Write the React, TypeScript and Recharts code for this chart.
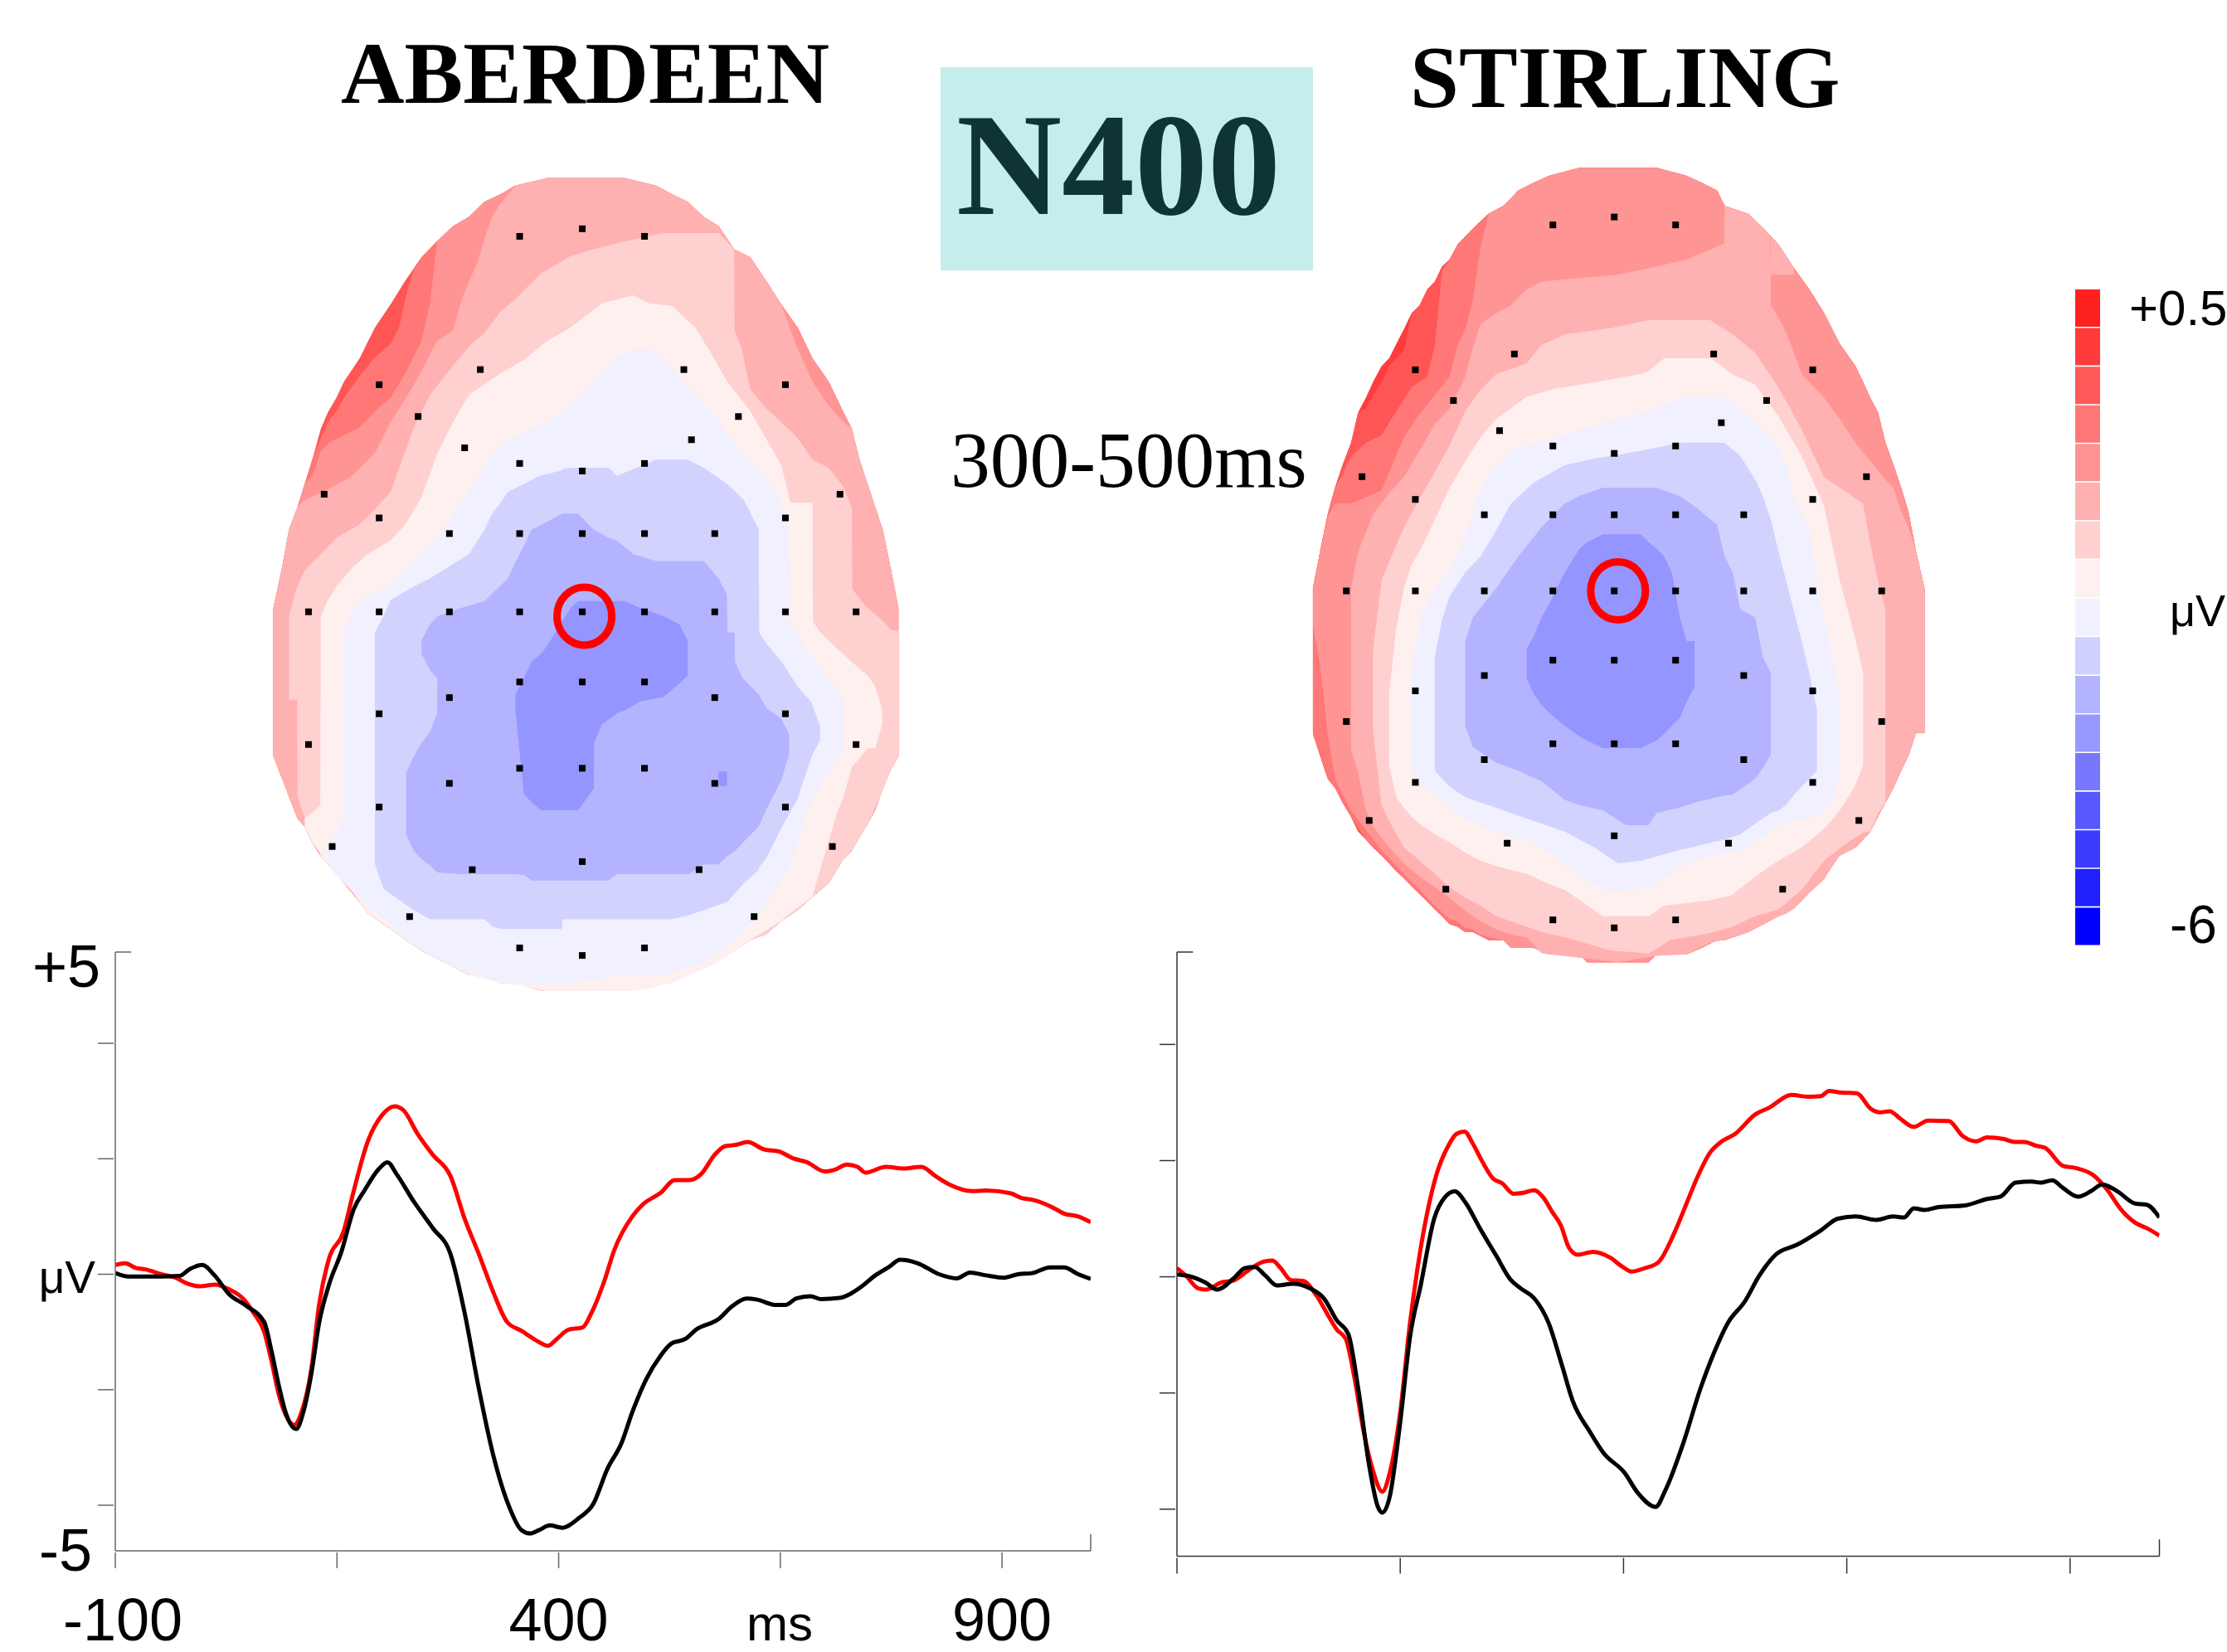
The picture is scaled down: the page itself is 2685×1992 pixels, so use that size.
import React from "react";
import { ComposedChart, LineChart, BarChart, Area, Line, Bar, Cell, Scatter, XAxis, YAxis, ReferenceLine } from "recharts";

// ---------- ERP waveforms: [time ms, amplitude uV] ----------
const aberdeenRed = [[-100,.16],[-89,.19],[-77,.11],[-65,.08],[-48,0],[-32,-.06],[-19,-.16],[-4,-.21],[12,-.18],[28,-.26],[44,-.42],[56,-.67],[68,-1],[76,-1.49],[84,-2.06],[92,-2.43],[102,-2.61],[110,-2.39],[121,-1.65],[130,-.51],[141,.27],[157,.72],[169,1.45],[185,2.31],[201,2.76],[215,2.91],[225,2.84],[241,2.43],[258,2.07],[278,1.7],[294,.96],[310,.35],[326,-.3],[342,-.83],[358,-.98],[374,-1.14],[388,-1.24],[398,-1.12],[411,-.96],[427,-.92],[437,-.67],[451,-.14],[463,.43],[483,1],[495,1.21],[515,1.41],[531,1.63],[547,1.63],[561,1.74],[576,2.07],[588,2.22],[600,2.24],[613,2.29],[632,2.16],[648,2.13],[664,2.01],[680,1.94],[700,1.78],[713,1.82],[725,1.9],[737,1.86],[746,1.76],[769,1.86],[789,1.83],[809,1.86],[825,1.7],[841,1.55],[866,1.44],[882,1.45],[910,1.4],[922,1.32],[934,1.29],[958,1.15],[970,1.05],[986,1],[1000,.9]];
const aberdeenBlack = [[-100,.02],[-85,-.04],[-69,-.04],[-48,-.04],[-28,-.03],[-16,.09],[-2,.16],[12,-.02],[28,-.34],[48,-.55],[68,-.83],[76,-1.32],[84,-1.9],[92,-2.39],[104,-2.68],[112,-2.39],[121,-1.73],[130,-.83],[141,-.18],[155,.39],[169,1.13],[181,1.45],[197,1.82],[207,1.94],[217,1.74],[237,1.25],[258,.8],[278,.35],[294,-.67],[310,-1.98],[326,-3.12],[344,-4.02],[358,-4.43],[368,-4.49],[378,-4.43],[390,-4.35],[404,-4.39],[423,-4.22],[439,-3.98],[455,-3.37],[471,-2.92],[483,-2.39],[499,-1.81],[515,-1.41],[527,-1.2],[543,-1.12],[555,-.96],[580,-.78],[596,-.55],[612,-.42],[624,-.44],[644,-.53],[656,-.53],[668,-.42],[684,-.38],[696,-.43],[717,-.41],[741,-.22],[757,-.02],[773,.13],[785,.25],[805,.19],[829,0],[849,-.07],[864,.03],[882,-.02],[902,-.06],[918,0],[934,.02],[954,.12],[970,.12],[986,0],[1000,-.08]];
const stirlingRed = [[-100,.15],[-90,.02],[-76,-.2],[-67,-.22],[-51,-.1],[-36,-.06],[-20,.11],[-5,.25],[7,.28],[16,.15],[28,-.06],[41,-.07],[57,-.34],[68,-.63],[79,-.91],[89,-1.07],[99,-1.76],[109,-2.66],[119,-3.31],[130,-3.7],[138,-3.39],[150,-2.33],[161,-.79],[169,.11],[181,1.16],[190,1.73],[204,2.26],[213,2.46],[222,2.5],[231,2.3],[242,1.98],[254,1.69],[264,1.61],[277,1.43],[289,1.45],[300,1.49],[310,1.37],[320,1.12],[330,.88],[339,.5],[349,.38],[366,.43],[385,.33],[399,.17],[409,.09],[424,.15],[439,.25],[457,.76],[470,1.24],[482,1.69],[497,2.14],[509,2.32],[525,2.46],[548,2.8],[563,2.91],[588,3.13],[606,3.1],[621,3.11],[630,3.2],[644,3.17],[661,3.16],[677,2.89],[687,2.83],[698,2.85],[710,2.72],[725,2.58],[741,2.69],[764,2.68],[780,2.42],[795,2.33],[807,2.4],[826,2.37],[838,2.32],[849,2.32],[861,2.26],[872,2.22],[892,1.91],[907,1.87],[926,1.75],[942,1.49],[957,1.16],[973,.93],[988,.82],[1000,.71]];
const stirlingBlack = [[-100,.04],[-86,.01],[-68,-.1],[-55,-.22],[-36,-.02],[-24,.15],[-13,.17],[-1,.02],[12,-.15],[30,-.12],[49,-.2],[65,-.38],[79,-.75],[92,-.99],[103,-1.93],[115,-3.23],[125,-3.96],[130,-4.06],[138,-3.8],[150,-2.5],[161,-1.03],[173,-.14],[188,1],[200,1.37],[211,1.47],[223,1.28],[239,.84],[258,.35],[273,-.04],[285,-.2],[300,-.37],[316,-.79],[331,-1.52],[343,-2.13],[362,-2.66],[378,-3.04],[401,-3.37],[416,-3.72],[436,-3.96],[447,-3.67],[467,-2.86],[486,-1.93],[501,-1.32],[517,-.79],[536,-.42],[552,.02],[571,.39],[594,.55],[621,.8],[640,1],[660,1.04],[683,.98],[702,1.04],[714,1.02],[725,1.18],[737,1.15],[753,1.2],[783,1.23],[807,1.34],[822,1.38],[839,1.62],[857,1.64],[867,1.62],[880,1.66],[892,1.53],[909,1.38],[923,1.47],[936,1.59],[953,1.47],[973,1.26],[986,1.24],[1000,1.02]];

const timeTicks = [-100, 150, 400, 650, 900];
const timeLabels: Record<number, string> = { [-100]: "-100", 400: "400", 900: "900" };
const leftAmpDomain = [-4.79, 5.58];
const rightAmpDomain = [-4.81, 5.59];
const ampTicks = [4, 2, 0, -2, -4];

// ---------- colour scale ----------
const scaleLevels = ["+0.5","+0.1","-0.3","-0.7","-1.1","-1.5","-1.9","-2.3","-2.8","-3.2","-3.6","-4.0","-4.4","-4.8","-5.2","-5.6","-6"];
const scaleColors = ["#ff2020","#ff3b3b","#ff5858","#ff7676","#ff9393","#ffb0b0","#ffd0d0","#fff0f0","#f0f0ff","#d0d0ff","#b3b3ff","#9898ff","#7878ff","#5858ff","#3c3cff","#2020ff","#0000ff"];

// ---------- scalp maps: contour columns in map grid units [x, upper edge, lower edge] ----------
const aHead = [[58,835,1110],[78,762,1150],[95,690,1185],[115,648,1225],[132,605,1240],[150,560,1270],[170,503,1295],[187,472,1310],[207,445,1325],[225,415,1345],[262,372,1380],[280,343,1400],[298,315,1410],[335,272,1430],[370,228,1450],[408,185,1470],[445,155,1485],[483,127,1500],[520,110,1515],[557,82,1515],[595,68,1530],[630,52,1530],[705,38,1545],[790,38,1545],[888,38,1545],[962,52,1530],[1000,68,1515],[1037,82,1500],[1075,110,1500],[1110,127,1485],[1147,170,1470],[1185,185,1450],[1222,228,1440],[1258,272,1415],[1297,315,1395],[1332,372,1370],[1370,415,1345],[1405,472,1300],[1425,503,1285],[1443,560,1260],[1462,605,1235],[1480,648,1210],[1498,690,1170],[1517,762,1135],[1535,835,1110]];
const headAfter = (head: number[][], x: number) => head.filter((c) => c[0] > x);
const headBetween = (head: number[][], a: number, b: number) => head.filter((c) => c[0] > a && c[0] < b);
const aR4 = [[58,835,1110],[78,762,1150],[95,690,1185],[115,648,1225],[132,605,1240],[150,560,1270],[170,520,1295],[187,490,1310],[207,470,1325],[225,445,1345],[262,405,1380],[298,370,1410],[335,345,1430],[355,315,1440],[370,260,1450],[390,205,1460],...headAfter(aHead,390)];
const aR3 = [[58,835,1110],[78,762,1150],[95,690,1185],[115,648,1225],[132,605,1240],[150,590,1270],[170,545,1295],[187,530,1310],[225,515,1345],[262,500,1380],[298,470,1410],[335,445,1430],[370,400,1450],[408,340,1470],[428,270,1478],[445,155,1485],...headAfter(aHead,445)];
const aR2 = [[58,835,1110],[78,762,1150],[95,690,1185],[115,648,1225],[132,635,1240],[187,615,1310],[245,590,1360],[300,545,1410],[335,490,1430],[372,445,1450],[408,395,1470],[445,340,1485],[483,320,1500],[500,270,1508],[520,230,1515],[540,195,1515],[557,150,1515],[575,110,1522],[595,85,1530],[630,52,1530],...headBetween(aHead,630,1297),[1297,355,1395],[1332,415,1370],[1370,460,1345],[1405,490,1300],...headAfter(aHead,1405)];
const aR1 = [[95,850,1005],[114,795,1005],[115,795,1185],[132,765,1225],[170,735,1295],[207,705,1325],[262,680,1380],[300,650,1410],[335,620,1430],[353,580,1440],[390,500,1460],[428,440,1478],[483,385,1500],[520,350,1515],[557,325,1515],[595,285,1530],[630,262,1530],[690,215,1545],[760,183,1545],[815,170,1545],[890,155,1545],[980,140,1525],[1110,140,1485],[1147,170,1470],[1148,320,1470],[1165,355,1462],[1185,430,1450],[1222,465,1440],[1258,490,1415],[1297,520,1395],[1332,560,1370],[1370,575,1345],[1405,610,1300],[1425,650,1285],[1426,800,1285],[1462,835,1235],[1500,860,1170],[1517,875,1135],[1535,878,1110]];
const aR0 = [[132,1225,1240],[150,1215,1270],[169,1200,1290],[170,850,1295],[187,820,1310],[207,795,1325],[245,760,1360],[280,735,1400],[335,710,1430],[370,680,1450],[408,630,1470],[445,550,1485],[483,490,1500],[520,440,1515],[595,400,1530],[650,375,1535],[705,340,1545],[760,315,1545],[835,270,1545],[908,255,1545],[945,270,1540],[1000,275,1530],[1055,315,1510],[1090,360,1500],[1130,415,1480],[1185,470,1450],[1258,570,1415],[1280,640,1400],[1332,640,1370],[1333,860,1365],[1350,880,1320],[1390,910,1215],[1405,920,1185],[1425,935,1130],[1462,960,1095],[1480,980,1095],[1497,1025,1050]];
const aB0 = [[187,1275,1310],[207,1250,1330],[224,1225,1344],[225,880,1345],[245,835,1360],[280,815,1385],[335,790,1425],[372,760,1450],[428,720,1478],[483,660,1500],[500,640,1505],[540,590,1515],[595,530,1530],[665,505,1530],[705,490,1530],[760,460,1530],[835,400,1522],[870,370,1515],[908,355,1515],[945,355,1515],[980,375,1515],[1055,440,1498],[1110,490,1475],[1185,565,1420],[1222,590,1385],[1258,640,1340],[1278,700,1315],[1279,860,1315],[1315,910,1220],[1350,945,1165],[1405,1000,1100]];
const aB1 = [[298,880,1310],[318,850,1355],[335,820,1365],[390,795,1395],[428,780,1412],[465,762,1412],[520,735,1412],[557,690,1412],[575,660,1425],[595,640,1430],[612,620,1430],[650,605,1430],[687,590,1430],[740,580,1430],[741,578,1412],[760,575,1412],[850,575,1412],[870,590,1412],[962,560,1412],[1000,560,1412],[1037,560,1405],[1075,575,1395],[1130,605,1380],[1170,635,1345],[1205,690,1320],[1206,880,1315],[1222,900,1300],[1260,935,1240],[1296,980,1190],[1330,1010,1110],[1350,1055,1080]];
const aB2 = [[372,1140,1255],[390,1110,1285],[408,1085,1300],[428,1065,1312],[445,1030,1325],[446,850,1325],[500,835,1328],[557,822,1328],[612,780,1328],[630,750,1328],[650,720,1330],[668,690,1340],[742,660,1340],[778,660,1340],[815,690,1340],[850,705,1340],[870,710,1328],[908,735,1328],[962,748,1328],[1040,748,1328],[1075,748,1310],[1110,780,1310],[1130,810,1295],[1131,880,1295],[1148,880,1285],[1149,935,1285],[1167,965,1270],[1205,995,1240],[1222,1020,1210],[1258,1040,1155],[1277,1070,1105]];
const aB2Lobe = [[408,895,920],[428,865,950],[446,850,965]];
const aB3 = [[630,995,1025],[650,965,1180],[668,935,1195],[690,920,1210],[705,905,1210],[760,835,1210],[778,822,1210],[815,822,1170],[816,822,1085],[835,822,1050],[870,822,1030],[888,822,1025],[925,835,1008],[980,850,1000],[1017,865,975],[1037,895,960]];
const aB3Patch = [[1110,1138,1165],[1130,1138,1165]];

const sHead = [[45,830,1105],[62,760,1147],[80,690,1190],[97,640,1207],[115,597,1235],[135,555,1262],[152,497,1290],[170,470,1305],[187,440,1320],[207,410,1335],[225,395,1350],[242,368,1365],[260,340,1378],[278,310,1393],[297,295,1408],[315,265,1422],[333,250,1437],[350,222,1450],[368,208,1465],[387,180,1470],[405,165,1480],[423,150,1480],[460,122,1495],[495,107,1495],[513,93,1510],[530,78,1510],[567,63,1510],[603,50,1522],[675,35,1522],[693,35,1537],[838,35,1537],[857,35,1522],[928,50,1522],[963,63,1510],[1000,78,1495],[1018,107,1495],[1073,122,1480],[1110,150,1465],[1145,180,1450],[1182,225,1435],[1218,265,1405],[1253,310,1380],[1272,340,1350],[1290,368,1335],[1327,410,1320],[1345,440,1305],[1362,470,1290],[1380,497,1262],[1398,555,1235],[1417,597,1207],[1435,640,1175],[1452,685,1147],[1470,760,1103],[1490,830,1103]];
const sR5 = [[45,830,1105],[62,760,1147],[80,690,1190],[97,640,1207],[115,597,1235],[135,555,1262],[152,497,1290],[170,490,1305],[187,465,1320],[207,440,1335],[225,410,1350],[242,395,1365],[260,380,1378],[278,310,1393],...headAfter(sHead,278)];
const sR4 = [[45,830,1105],[62,760,1147],[80,690,1190],[97,640,1207],[115,615,1235],[135,580,1262],[170,555,1305],[207,540,1335],[242,495,1365],[278,450,1393],[315,430,1422],[333,370,1437],[350,230,1450],...headAfter(sHead,350)];
const sR3 = [[45,830,900],[62,760,975],[80,695,1105],[97,670,1190],[135,670,1250],[207,645,1325],[260,545,1370],[297,500,1400],[333,465,1430],[368,430,1455],[387,370,1460],[405,340,1472],[423,285,1475],[440,190,1485],[460,122,1490],...headAfter(sHead,460)];
const sR2 = [[135,830,1135],[152,760,1180],[170,725,1250],[187,690,1280],[225,650,1320],[260,620,1350],[297,570,1375],[333,520,1395],[368,490,1415],[405,430,1440],[423,375,1450],[441,330,1460],[478,310,1475],[513,295,1485],[550,265,1490],[585,250,1520],[765,237,1537],[857,222,1525],[928,208,1522],[983,190,1500],[1017,178,1495],[1018,107,1495],[1073,122,1480],[1110,150,1465],[1126,165,1458],[1127,295,1458],[1147,320,1450],[1165,350,1445],[1182,385,1435],[1200,425,1420],[1253,470,1380],[1290,510,1335],[1327,555,1320],[1362,590,1290],[1398,625,1235],[1417,640,1207],[1435,685,1175],[1452,715,1147],[1470,760,1103],[1490,830,1103]];
const sR2Cap = [[1127,165,237],[1145,180,237],[1182,225,237]];
const sR1 = [[187,945,1100],[207,815,1240],[225,780,1270],[260,715,1320],[297,660,1345],[333,610,1370],[368,560,1395],[405,495,1415],[441,455,1430],[478,425,1450],[550,405,1470],[585,370,1480],[640,350,1490],[750,338,1515],[838,323,1520],[890,323,1495],[983,323,1482],[1037,350,1470],[1090,385,1450],[1145,450,1437],[1200,530,1400],[1253,620,1345],[1300,645,1315],[1345,670,1292],[1362,745,1290],[1380,815,1255],[1398,870,1235]];
const sR0 = [[225,1030,1165],[242,905,1225],[260,830,1245],[278,785,1262],[297,760,1275],[333,700,1295],[368,640,1310],[405,590,1330],[441,545,1345],[478,510,1355],[550,468,1370],[620,452,1395],[640,450,1400],[730,438,1450],[820,425,1450],[838,420,1450],[875,395,1430],[985,395,1420],[1035,425,1410],[1090,445,1375],[1145,505,1345],[1200,580,1320],[1253,675,1285],[1290,815,1250],[1325,920,1205],[1345,990,1165]];
const sB0 = [[278,990,1175],[297,890,1205],[333,830,1220],[368,800,1245],[405,730,1265],[441,640,1280],[478,595,1290],[513,570,1300],[567,555,1310],[620,545,1340],[675,530,1375],[750,513,1405],[840,495,1395],[912,470,1360],[965,470,1340],[1018,470,1330],[1055,490,1325],[1110,530,1300],[1145,565,1280],[1163,600,1275],[1182,660,1270],[1218,720,1265],[1236,815,1258],[1253,890,1250],[1272,960,1235],[1290,1025,1180]];
const sB1 = [[333,960,1175],[350,890,1190],[368,845,1205],[405,800,1225],[441,770,1235],[478,720,1245],[513,670,1255],[567,630,1270],[640,597,1290],[710,585,1320],[765,578,1350],[820,570,1345],[912,555,1325],[1018,555,1305],[1055,580,1295],[1090,625,1275],[1108,655,1265],[1127,700,1255],[1145,760,1250],[1163,815,1240],[1182,875,1220],[1200,930,1205],[1218,990,1190],[1236,1060,1175]];
const sB2 = [[405,930,1090],[423,885,1130],[478,830,1160],[530,770,1175],[585,715,1195],[640,670,1230],[675,655,1240],[730,640,1250],[785,640,1278],[838,640,1278],[857,640,1255],[910,655,1245],[947,675,1235],[1000,710,1225],[1018,770,1222],[1037,800,1220],[1055,870,1210],[1090,885,1190],[1108,960,1170],[1127,990,1145]];
const sB3 = [[550,945,1000],[567,920,1030],[585,885,1050],[603,860,1065],[640,800,1090],[675,755,1110],[693,743,1118],[730,728,1132],[820,728,1132],[838,743,1125],[857,755,1118],[875,770,1105],[893,800,1090],[912,885,1075],[928,930,1045],[947,930,1015]];

const aElectrodes = [[640,146],[788,132],[935,146],[547,393],[1028,393],[308,421],[1268,421],[400,480],[1157,480],[1046,523],[510,538],[640,567],[935,567],[788,581],[178,624],[1397,624],[308,668],[1268,668],[474,697],[640,697],[788,697],[935,697],[1101,697],[141,842],[308,842],[474,842],[640,842],[788,842],[935,842],[1101,842],[1268,842],[1435,842],[640,972],[788,972],[935,972],[474,1001],[1101,1001],[308,1031],[1268,1031],[141,1088],[1435,1088],[640,1132],[788,1132],[935,1132],[474,1160],[1101,1160],[308,1204],[1268,1204],[197,1277],[1379,1277],[788,1305],[528,1320],[1064,1320],[380,1407],[1194,1407],[640,1465],[935,1465],[788,1479]];
const sElectrodes = [[612,143],[757,128],[902,143],[521,387],[992,387],[287,417],[1226,417],[377,475],[1117,475],[1010,517],[486,532],[612,561],[902,561],[757,575],[161,619],[1353,619],[287,662],[1226,662],[450,691],[612,691],[757,691],[902,691],[1063,691],[124,835],[287,835],[450,835],[612,835],[757,835],[902,835],[1063,835],[1226,835],[1389,835],[612,966],[757,966],[902,966],[450,995],[1063,995],[287,1024],[1226,1024],[124,1082],[1389,1082],[612,1124],[757,1124],[902,1124],[450,1154],[1063,1154],[287,1197],[1226,1197],[178,1269],[1335,1269],[757,1298],[504,1312],[1027,1312],[359,1399],[1155,1399],[612,1457],[902,1457],[757,1472]];
const aSite = [[793,850]];
const sSite = [[766,835]];

const C = { r6: "#ff3b3b", r5: "#ff5555", r4: "#ff7777", r3: "#ff9494", r2: "#ffb0b0", r1: "#ffd0d0", r0: "#fff0f0", b0: "#f0f0ff", b1: "#d2d2ff", b2: "#b3b3ff", b3: "#9595ff" };
const aLayers: [number[][], string][] = [[aHead,C.r5],[aR4,C.r4],[aR3,C.r3],[aR2,C.r2],[aR1,C.r1],[aR0,C.r0],[aB0,C.b0],[aB1,C.b1],[aB2,C.b2],[aB2Lobe,C.b2],[aB3,C.b3],[aB3Patch,C.b3]];
const sLayers: [number[][], string][] = [[sHead,C.r6],[sR5,C.r5],[sR4,C.r4],[sR3,C.r3],[sR2,C.r2],[sR2Cap,C.r2],[sR1,C.r1],[sR0,C.r0],[sB0,C.b0],[sB1,C.b1],[sB2,C.b2],[sB3,C.b3]];

const SANS = "'Liberation Sans', Arial, sans-serif";
const SERIF = "'Liberation Serif', 'Times New Roman', serif";

const toXY = (rows: number[][]) => rows.map(([x, y]) => ({ x, y }));
const toBand = (rows: number[][]) => rows.map(([x, t, b]) => ({ x, band: [t, b] }));
const toWave = (rows: number[][]) => rows.map(([t, v]) => ({ t, v }));

function ScalpMap({ layers, electrodes, site, left, top, width, height }: any) {
  return (
    <div style={{ position: "absolute", left, top }}>
      <ComposedChart width={width} height={height} margin={{ top: 0, right: 0, bottom: 0, left: 0 }}>
        <XAxis hide type="number" dataKey="x" domain={[0, 1568]} allowDataOverflow />
        <YAxis hide type="number" dataKey="y" domain={[0, 1568]} reversed allowDataOverflow width={0} />
        {layers.map(([rows, color]: any, i: number) => (
          <Area key={i} data={toBand(rows)} dataKey="band" type="linear" fill={color} fillOpacity={1} stroke="none" dot={false} activeDot={false} isAnimationActive={false} />
        ))}
        <Scatter data={toXY(electrodes)} isAnimationActive={false} shape={(p: any) => <rect x={p.cx - 4} y={p.cy - 4} width={8} height={8} fill="#000" />} />
        <Scatter data={toXY(site)} isAnimationActive={false} shape={(p: any) => <ellipse cx={p.cx} cy={p.cy} rx={33} ry={35} fill="none" stroke="#ff0000" strokeWidth={9} />} />
      </ComposedChart>
    </div>
  );
}

const XTick = ({ x, y, payload, axisColor, labels }: any) => {
  const label = labels ? timeLabels[payload.value] : undefined;
  const shift = payload.value === -100 ? 9 : 0;
  return (
    <g>
      <line x1={x} x2={x} y1={y - 19} y2={y} stroke={axisColor} strokeWidth={1.5} />
      {label ? <text x={x + shift} y={y + 87} textAnchor="middle" fontFamily={SANS} fontSize={72} fill="#000">{label}</text> : null}
    </g>
  );
};

function Wave({ red, black, left, top, width, height, margin, yWidth, domain, axisColor, labels }: any) {
  const yTicks = labels ? [domain[1], ...ampTicks, domain[0]] : [domain[1], ...ampTicks];
  const YTick = ({ x, y, payload }: any) => {
    const v = payload.value;
    const isEnd = v === domain[1] || v === domain[0];
    let txt = null;
    if (labels && v === domain[1]) txt = <text x={121} y={y + 42} textAnchor="end" fontFamily={SANS} fontSize={72} fill="#000">+5</text>;
    if (labels && v === domain[0]) txt = <text x={111} y={y + 24} textAnchor="end" fontFamily={SANS} fontSize={72} fill="#000">-5</text>;
    if (labels && v === 0) txt = <text x={115} y={y + 22} textAnchor="end" fontFamily={SANS} fontSize={55} fill="#000">μV</text>;
    return (
      <g>
        {isEnd ? null : <line x1={x} x2={x + 19} y1={y} y2={y} stroke={axisColor} strokeWidth={1.5} />}
        {txt}
      </g>
    );
  };
  return (
    <div style={{ position: "absolute", left, top }}>
      <LineChart width={width} height={height} margin={margin}>
        <XAxis type="number" dataKey="t" domain={[-100, 1000]} ticks={timeTicks} interval={0} height={100} tickSize={19} tickLine={false} axisLine={{ stroke: axisColor, strokeWidth: 1.5 }} tick={<XTick axisColor={axisColor} labels={labels} />} allowDataOverflow />
        <YAxis type="number" domain={domain} ticks={yTicks} interval={0} width={yWidth} tickSize={19} tickLine={false} axisLine={{ stroke: axisColor, strokeWidth: 1.5 }} tick={<YTick />} allowDataOverflow />
        <ReferenceLine segment={[{ x: -100, y: domain[1] }, { x: -82, y: domain[1] }]} stroke={axisColor} strokeWidth={1.5} />
        <ReferenceLine segment={[{ x: 1000, y: domain[0] }, { x: 1000, y: domain[0] + 0.29 }]} stroke={axisColor} strokeWidth={1.5} />
        <Line data={toWave(red)} dataKey="v" type="monotone" stroke="#ff0000" strokeWidth={5} dot={false} activeDot={false} isAnimationActive={false} />
        <Line data={toWave(black)} dataKey="v" type="monotone" stroke="#000000" strokeWidth={5} dot={false} activeDot={false} isAnimationActive={false} />
      </LineChart>
    </div>
  );
}

function ScaleBar() {
  const rows = scaleLevels.map((level) => ({ level, share: 1 }));
  return (
    <div style={{ position: "absolute", left: 2502, top: 348 }}>
      <BarChart width={30} height={792} data={rows} layout="vertical" margin={{ top: 0, right: 0, bottom: 0, left: 0 }} barCategoryGap={1}>
        <XAxis hide type="number" domain={[0, 1]} />
        <YAxis hide type="category" dataKey="level" width={0} />
        <Bar dataKey="share" isAnimationActive={false}>
          {rows.map((_, i) => <Cell key={i} fill={scaleColors[i]} />)}
        </Bar>
      </BarChart>
    </div>
  );
}

export default function App() {
  return (
    <div style={{ position: "absolute", left: 0, top: 0, width: 2685, height: 1992, overflow: "hidden", background: "#fff" }}>
      <ScalpMap layers={aLayers} electrodes={aElectrodes} site={aSite} left={300} top={190} width={800} height={1020} />
      <ScalpMap layers={sLayers} electrodes={sElectrodes} site={sSite} left={1560} top={180} width={800} height={1000} />
      <Wave red={aberdeenRed} black={aberdeenBlack} left={0} top={1100} width={1350} height={892} margin={{ top: 48, right: 35, bottom: 22, left: 0 }} yWidth={139} domain={leftAmpDomain} axisColor="#666" labels />
      <Wave red={stirlingRed} black={stirlingBlack} left={1380} top={1100} width={1305} height={892} margin={{ top: 48, right: 81.5, bottom: 15.5, left: 0 }} yWidth={39} domain={rightAmpDomain} axisColor="#333" labels={false} />
      <ScaleBar />
      <svg width={2685} height={1992} style={{ position: "absolute", left: 0, top: 0, pointerEvents: "none" }}>
        <text x={411} y={124} fontFamily={SERIF} fontWeight="bold" fontSize={106} fill="#000">ABERDEEN</text>
        <text x={1700} y={129} fontFamily={SERIF} fontWeight="bold" fontSize={106} fill="#000">STIRLING</text>
        <rect x={1134} y={81} width={449} height={245} fill="#c5edeb" />
        <text x={1153} y={258} fontFamily={SERIF} fontWeight="bold" fontSize={176} fill="#0f3434">N400</text>
        <text x={1146} y={587} fontFamily={SERIF} fontSize={95.5} fill="#000">300-500ms</text>
        <text x={2567} y={392} fontFamily={SANS} fontSize={60} fill="#000">+0.5</text>
        <text x={2616} y={755} fontFamily={SANS} fontSize={54} fill="#000">μV</text>
        <text x={2616} y={1137} fontFamily={SANS} fontSize={64} fill="#000">-6</text>
        <text x={940} y={1978} textAnchor="middle" fontFamily={SANS} fontSize={60} fill="#000">ms</text>
      </svg>
    </div>
  );
}
